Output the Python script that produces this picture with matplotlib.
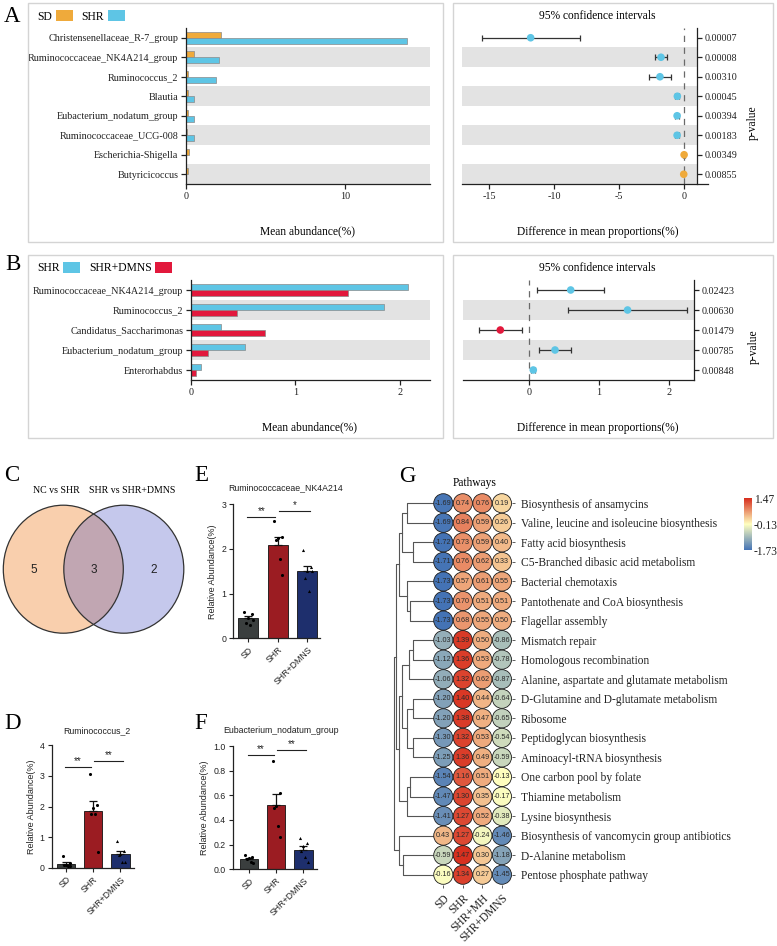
import numpy as np
import matplotlib
matplotlib.use("Agg")
import matplotlib.pyplot as plt
from matplotlib.patches import Rectangle, Ellipse, Circle, Patch
from matplotlib.colors import LinearSegmentedColormap, Normalize
from matplotlib.cm import ScalarMappable

SERIF = "Liberation Serif"
SANS = "Liberation Sans"
plt.rcParams["font.family"] = [SERIF, "DejaVu Serif"]
plt.rcParams["axes.unicode_minus"] = False

# ---------------- data ----------------
# Panel A (SD vs SHR)
a_taxa = ["Christensenellaceae_R-7_group", "Ruminococcaceae_NK4A214_group", "Ruminococcus_2",
          "Blautia", "Eubacterium_nodatum_group", "Ruminococcaceae_UCG-008",
          "Escherichia-Shigella", "Butyricicoccus"]
a_sd = [2.2, 0.48, 0.15, 0.10, 0.10, 0.05, 0.19, 0.10]
a_shr = [13.86, 2.09, 1.86, 0.50, 0.53, 0.48, 0.03, 0.02]
a_diff = [-11.79, -1.75, -1.83, -0.49, -0.51, -0.51, 0.03, 0.00]
a_lo = [-15.56, -2.21, -2.67, -0.65, -0.70, -0.68, -0.02, -0.04]
a_hi = [-7.99, -1.26, -1.00, -0.33, -0.35, -0.35, 0.08, 0.04]
a_p = ["0.00007", "0.00008", "0.00310", "0.00045", "0.00394", "0.00183", "0.00349", "0.00855"]
a_groups = ["SD", "SHR"]

# Panel B (SHR vs SHR+DMNS)
b_taxa = ["Ruminococcaceae_NK4A214_group", "Ruminococcus_2", "Candidatus_Saccharimonas",
          "Eubacterium_nodatum_group", "Enterorhabdus"]
b_shr = [2.08, 1.85, 0.29, 0.52, 0.10]
b_dmns = [1.50, 0.44, 0.71, 0.16, 0.045]
b_diff = [0.594, 1.41, -0.416, 0.369, 0.057]
b_lo = [0.106, 0.56, -0.72, 0.139, 0.03]
b_hi = [1.07, 2.26, -0.11, 0.598, 0.085]
b_p = ["0.02423", "0.00630", "0.01479", "0.00785", "0.00848"]
b_groups = ["SHR", "SHR+DMNS"]

# Panel C (Venn)
venn_sets = ["NC vs SHR", "SHR vs SHR+DMNS"]
venn_counts = [5, 3, 2]   # left only, shared, right only

# Panels D, E, F
bar_groups = ["SD", "SHR", "SHR+DMNS"]
e_title = "Ruminococcaceae_NK4A214"
e_points = [[0.60, 0.55, 0.45, 0.35, 0.30, 0.42],
            [2.62, 2.27, 2.25, 2.20, 1.78, 1.42],
            [1.98, 1.60, 1.50, 1.35, 1.05, 1.50]]
e_sig = [(0, 1, 2.71, "**"), (1, 2, 2.85, "*")]
d_title = "Ruminococcus_2"
d_points = [[0.38, 0.15, 0.10, 0.08, 0.05, 0.05],
            [3.07, 2.05, 1.95, 1.75, 1.76, 0.52],
            [0.88, 0.55, 0.45, 0.40, 0.20, 0.20]]
d_sig = [(0, 1, 3.30, "**"), (1, 2, 3.48, "**")]
f_title = "Eubacterium_nodatum_group"
f_points = [[0.12, 0.10, 0.09, 0.08, 0.06, 0.05],
            [0.88, 0.62, 0.51, 0.50, 0.35, 0.26],
            [0.25, 0.21, 0.19, 0.15, 0.10, 0.06]]
f_sig = [(0, 1, 0.925, "**"), (1, 2, 0.97, "**")]

# Panel G (pathway heatmap, row z-scores)
g_pathways = ["Biosynthesis of ansamycins", "Valine, leucine and isoleucine biosynthesis",
              "Fatty acid biosynthesis", "C5-Branched dibasic acid metabolism",
              "Bacterial chemotaxis", "Pantothenate and CoA biosynthesis", "Flagellar assembly",
              "Mismatch repair", "Homologous recombination",
              "Alanine, aspartate and glutamate metabolism",
              "D-Glutamine and D-glutamate metabolism", "Ribosome",
              "Peptidoglycan biosynthesis", "Aminoacyl-tRNA biosynthesis",
              "One carbon pool by folate", "Thiamine metabolism", "Lysine biosynthesis",
              "Biosynthesis of vancomycin group antibiotics", "D-Alanine metabolism",
              "Pentose phosphate pathway"]
g_columns = ["SD", "SHR", "SHR+MH", "SHR+DMNS"]
g_sd = [-1.69, -1.69, -1.72, -1.71, -1.73, -1.73, -1.73, -1.03, -1.12, -1.06,
        -1.20, -1.20, -1.30, -1.25, -1.54, -1.47, -1.41, 0.43, -0.59, -0.16]
g_shr = [0.74, 0.84, 0.73, 0.76, 0.57, 0.70, 0.68, 1.39, 1.36, 1.32,
         1.40, 1.38, 1.32, 1.36, 1.16, 1.30, 1.27, 1.27, 1.47, 1.34]
g_mh = [0.76, 0.59, 0.59, 0.62, 0.61, 0.51, 0.55, 0.50, 0.53, 0.62,
        0.44, 0.47, 0.53, 0.49, 0.51, 0.35, 0.52, -0.24, 0.30, 0.27]
g_dmns = [0.19, 0.26, 0.40, 0.33, 0.55, 0.51, 0.50, -0.86, -0.78, -0.87,
          -0.64, -0.65, -0.54, -0.59, -0.13, -0.17, -0.38, -1.46, -1.18, -1.45]
g_cbar_ticks = [1.47, -0.13, -1.73]
# dendrogram merges: (child a, child b, height); new clusters numbered from 20
g_merges = [(0, 1, 1.38), (2, 3, 1.03), (20, 21, 1.60), (5, 6, 1.18), (4, 23, 1.38),
            (22, 24, 1.79), (7, 8, 1.04), (26, 9, 1.27), (10, 11, 1.04), (12, 13, 1.04),
            (28, 29, 1.38), (27, 30, 1.60), (14, 15, 1.18), (32, 16, 1.38), (31, 33, 1.79),
            (25, 34, 1.90), (18, 19, 1.55), (17, 36, 1.79), (35, 37, 2.00)]

# ---------------- figure helpers ----------------
W, H = 777, 946
fig = plt.figure(figsize=(W / 100, H / 100), dpi=100)
fig.patch.set_facecolor("white")


def pax(l, t, r, b):
    return fig.add_axes([l / W, 1 - b / H, (r - l) / W, (b - t) / H])


def ftext(x, y, s, **kw):
    kw.setdefault("ha", "center")
    kw.setdefault("va", "center")
    return fig.text(x / W, 1 - y / H, s, **kw)


def frame(l, t, r, b):
    fig.add_artist(Rectangle((l / W, 1 - b / H), (r - l) / W, (b - t) / H,
                             transform=fig.transFigure, fill=False, ec="#d4d4d4", lw=1.0))


ORANGE = "#efaa3b"
BLUE = "#5ec5e5"
RED = "#e2183c"
BAND = "#e3e3e3"
INK = "#222222"
LBL = 7.3
TTL = 8.3


def abundance_panel(ax, taxa, v1, v2, c1, c2, xmax, xticks):
    y = np.arange(len(taxa))
    for i in y[1::2]:
        ax.axhspan(i - 0.5, i + 0.5, color=BAND, lw=0, zorder=0)
    ax.barh(y - 0.16, v1, height=0.32, color=c1, ec="#8a8a8a", lw=0.5, zorder=2)
    ax.barh(y + 0.16, v2, height=0.32, color=c2, ec="#8a8a8a", lw=0.5, zorder=2)
    ax.set_ylim(len(taxa) - 0.5, -0.5)
    ax.set_xlim(0, xmax)
    ax.set_yticks(y, taxa)
    ax.set_xticks(xticks)
    for s in ["top", "right"]:
        ax.spines[s].set_visible(False)
    for s in ["left", "bottom"]:
        ax.spines[s].set_linewidth(0.9)
        ax.spines[s].set_color(INK)
    ax.tick_params(labelsize=LBL, length=3.5, width=0.9, colors=INK, pad=2)


def ci_panel(ax, diff, lo, hi, colors, pvals, xlim, spine_x, xticks):
    diff, lo, hi = map(np.asarray, (diff, lo, hi))
    y = np.arange(len(diff))
    for i in y[1::2]:
        ax.barh(i, spine_x - xlim[0], left=xlim[0], height=1.0, color=BAND, lw=0, zorder=0)
    ax.axvline(0, color="#6a6a6a", lw=0.9, ls=(0, (5, 4.5)), zorder=1)
    ax.errorbar(diff, y, xerr=[diff - lo, hi - diff], fmt="none", ecolor="#333333",
                elinewidth=0.9, capsize=2, capthick=0.9, zorder=2)
    ax.scatter(diff, y, s=30, c=colors, lw=0, zorder=3)
    ax.set_xlim(xlim)
    ax.set_ylim(len(diff) - 0.5, -0.5)
    ax.spines["left"].set_visible(False)
    ax.spines["top"].set_visible(False)
    ax.spines["right"].set_position(("data", spine_x))
    for s in ["right", "bottom"]:
        ax.spines[s].set_linewidth(0.9)
        ax.spines[s].set_color(INK)
    ax.yaxis.tick_right()
    ax.set_yticks(y, pvals)
    ax.set_xticks(xticks)
    ax.tick_params(labelsize=LBL, length=3.5, width=0.9, colors=INK, pad=2)


def stamp_legend(labels, colors, x, y):
    fig.legend(handles=[Patch(fc=c, ec="none") for c in colors], labels=labels,
               loc="upper left", bbox_to_anchor=(x / W, 1 - y / H), ncol=len(labels),
               frameon=False, markerfirst=False, handlelength=1.45, handleheight=1.05,
               handletextpad=0.3, columnspacing=0.75, borderpad=0, borderaxespad=0,
               fontsize=8.4)


# ---------------- frames & letters ----------------
frame(28.3, 3.3, 443.3, 241.7)
frame(453.3, 3.3, 773.3, 241.7)
frame(28.3, 255, 443.3, 438)
frame(453.3, 255, 773.3, 438)
for letter, (lx, ly) in zip("ABCDEFG", [(12.5, 16), (12.5, 264), (12, 475), (12.5, 723),
                                        (201, 475), (201, 723), (407.5, 476.5)]):
    ftext(lx, ly, letter, fontsize=16.5, family=SERIF)

# ---------------- Panel A ----------------
axA = pax(186, 28, 430, 184)
abundance_panel(axA, a_taxa, a_sd, a_shr, ORANGE, BLUE, 15.3, [0, 10])
stamp_legend(a_groups, [ORANGE, BLUE], 37.5, 10.5)
ftext(307.5, 231.5, "Mean abundance(%)", fontsize=TTL)

axAr = pax(461.7, 28, 708, 184)
ci_panel(axAr, a_diff, a_lo, a_hi, [BLUE if d < 0 else ORANGE for d in a_diff], a_p,
         (-17.1, 1.87), 1.0, [-15, -10, -5, 0])
ftext(597, 16, "95% confidence intervals", fontsize=TTL)
ftext(597.5, 231.5, "Difference in mean proportions(%)", fontsize=TTL)
ftext(753, 123, "p-value", fontsize=TTL, rotation=90)

# ---------------- Panel B ----------------
axB = pax(191, 280, 430, 380)
abundance_panel(axB, b_taxa, b_shr, b_dmns, BLUE, RED, 2.29, [0, 1, 2])
stamp_legend(b_groups, [BLUE, RED], 37, 262)
ftext(309, 427.5, "Mean abundance(%)", fontsize=TTL)

axBr = pax(463.3, 280, 694, 380)
ci_panel(axBr, b_diff, b_lo, b_hi, [BLUE if d > 0 else RED for d in b_diff], b_p,
         (-0.947, 2.363), 2.363, [0, 1, 2])
ftext(597, 267.5, "95% confidence intervals", fontsize=TTL)
ftext(597.5, 427.5, "Difference in mean proportions(%)", fontsize=TTL)
ftext(753.3, 346.7, "p-value", fontsize=TTL, rotation=90)

# ---------------- Panel C (Venn) ----------------
axC = pax(0, 498, 190, 640)
axC.set_xlim(0, 190)
axC.set_ylim(640, 498)
axC.axis("off")
cl, cr, cy, ew, eh = 63.3, 123.8, 569.2, 120, 128
axC.add_patch(Ellipse((cl, cy), ew, eh, fc="#f9cfad", ec="none", zorder=1))
axC.add_patch(Ellipse((cr, cy), ew, eh, fc=(0.22, 0.26, 0.75, 0.29), ec="none", zorder=2))
axC.add_patch(Ellipse((cl, cy), ew, eh, fill=False, ec="#333333", lw=0.9, zorder=3))
axC.add_patch(Ellipse((cr, cy), ew, eh, fill=False, ec="#333333", lw=0.9, zorder=3))
vx = [(cl - ew / 2 + cr - ew / 2) / 2, (cr - ew / 2 + cl + ew / 2) / 2, (cl + ew / 2 + cr + ew / 2) / 2]
for xv, cnt in zip(vx, venn_counts):
    axC.text(xv, cy + 1, str(cnt), ha="center", va="center", fontsize=8.5, family=SANS, color=INK)
ftext(56.7, 490, venn_sets[0], fontsize=7.1, family=SERIF)
ftext(131.7, 490, venn_sets[1], fontsize=7.1, family=SERIF)

# ---------------- Panels D, E, F ----------------
GP_COLORS = ["#3a3e3e", "#9b1c22", "#1e2f6d"]
MARKS = ["o", "o", "^"]
JIT = np.array([-0.13, 0.13, 0.0, -0.07, 0.07, 0.16])
SIG_SPAN = [(-0.03, -0.08), (0.04, 0.10)]


def graphpad(ax, pts, sig, ylim, yticks, yticklabels, xlim):
    x = np.arange(len(pts))
    means = np.array([np.mean(p) for p in pts])
    sems = np.array([np.std(p, ddof=1) / np.sqrt(len(p)) for p in pts])
    ax.bar(x, means, width=0.68, color=GP_COLORS, ec="#111111", lw=0.6, zorder=2)
    ax.errorbar(x, means, yerr=[np.zeros(len(x)), sems], fmt="none", ecolor="#111111",
                elinewidth=0.9, capsize=3, capthick=0.9, zorder=3)
    for k, p in enumerate(pts):
        ax.scatter(k + JIT[:len(p)], p, s=5, marker=MARKS[k], color="black", lw=0, zorder=4)
    for (i, j, yv, lab), (o0, o1) in zip(sig, SIG_SPAN):
        x0, x1 = i + o0, j + o1
        ax.plot([x0, x1], [yv, yv], color=INK, lw=0.8, clip_on=False)
        ax.annotate(lab, ((x0 + x1) / 2, yv), xytext=(0, 0.5), textcoords="offset points",
                    ha="center", va="bottom", fontsize=7, family=SANS, color=INK,
                    annotation_clip=False)
    ax.set_xlim(xlim)
    ax.set_ylim(ylim)
    ax.set_yticks(yticks, yticklabels)
    ax.set_xticks(x, bar_groups, rotation=45, ha="right", rotation_mode="anchor")
    for s in ["top", "right"]:
        ax.spines[s].set_visible(False)
    for s in ["left", "bottom"]:
        ax.spines[s].set_linewidth(0.9)
        ax.spines[s].set_color(INK)
    ax.tick_params(length=3, width=0.8, colors=INK, labelsize=6.3, pad=2)
    for lab in ax.get_xticklabels() + ax.get_yticklabels():
        lab.set_family(SANS)
    ax.set_ylabel("Relative Abundance(%)", fontsize=6.5, family=SANS, color=INK, labelpad=3)


axE = pax(233.3, 504.3, 320, 638.3)
graphpad(axE, e_points, e_sig, (0, 3), [0, 1, 2, 3], ["0", "1", "2", "3"], (-0.5, 2.43))
ftext(285.5, 488, e_title, fontsize=6.3, family=SANS, color=INK)

axD = pax(51.7, 745.3, 134, 867.7)
graphpad(axD, d_points, d_sig, (0, 4), [0, 1, 2, 3, 4], ["0", "1", "2", "3", "4"], (-0.53, 2.5))
ftext(96.7, 730.7, d_title, fontsize=6.3, family=SANS, color=INK)

axF = pax(232.7, 746, 317, 869.3)
graphpad(axF, f_points, f_sig, (0, 1.0), [0, 0.2, 0.4, 0.6, 0.8, 1.0],
         ["0.0", "0.2", "0.4", "0.6", "0.8", "1.0"], (-0.59, 2.5))
ftext(281, 730.7, f_title, fontsize=6.3, family=SANS, color=INK)

# ---------------- Panel G ----------------
cmap = LinearSegmentedColormap.from_list("gyr", ["#4473b5", "#ffffbf", "#d7301f"])
norm = Normalize(min(g_cbar_ticks), max(g_cbar_ticks))
vals = np.column_stack([g_sd, g_shr, g_mh, g_dmns])
n_rows = len(g_pathways)

axG = pax(392.5, 493.5, 511.7, 884.5)
for i in range(n_rows):
    for j in range(len(g_columns)):
        v = vals[i, j]
        axG.add_patch(Circle((j, i), 0.49, fc=cmap(norm(v)), ec="#1a1a1a", lw=0.6, zorder=2))
        axG.text(j, i, f"{v:.2f}", ha="center", va="center", fontsize=5.2, family=SANS,
                 color="#2a2a2a", zorder=3)

pos = {i: (float(i), 0.0) for i in range(n_rows)}
for k, (a, b, h) in enumerate(g_merges):
    ya, ha = pos[a]
    yb, hb = pos[b]
    axG.plot([-0.5 - ha, -0.5 - h, -0.5 - h, -0.5 - hb], [ya, ya, yb, yb],
             color="#555555", lw=0.8, zorder=1)
    pos[n_rows + k] = ((ya + yb) / 2, h)

axG.set_xlim(-2.6, 3.5)
axG.set_ylim(n_rows - 0.5, -0.5)
for s in axG.spines.values():
    s.set_visible(False)
axG.yaxis.tick_right()
axG.set_yticks(np.arange(n_rows), g_pathways)
axG.set_xticks(np.arange(len(g_columns)), g_columns, rotation=45, ha="right",
               rotation_mode="anchor")
axG.tick_params(axis="y", length=2.5, width=0.6, colors="#444444", labelsize=TTL, pad=4,
                labelcolor=INK)
axG.tick_params(axis="x", length=2.5, width=0.6, colors="#444444", labelsize=TTL, pad=3,
                labelcolor=INK)
ftext(475, 483.3, "Pathways", fontsize=TTL)

cax = pax(744, 498.3, 751.7, 550)
cb = fig.colorbar(ScalarMappable(norm=norm, cmap=cmap), cax=cax, ticks=g_cbar_ticks)
cb.outline.set_visible(False)
cb.ax.set_yticklabels([f"{t:.2f}" for t in g_cbar_ticks])
cax.tick_params(length=0, labelsize=TTL, pad=1.5, colors=INK)

fig.savefig("out.png", dpi=100, facecolor="white")
